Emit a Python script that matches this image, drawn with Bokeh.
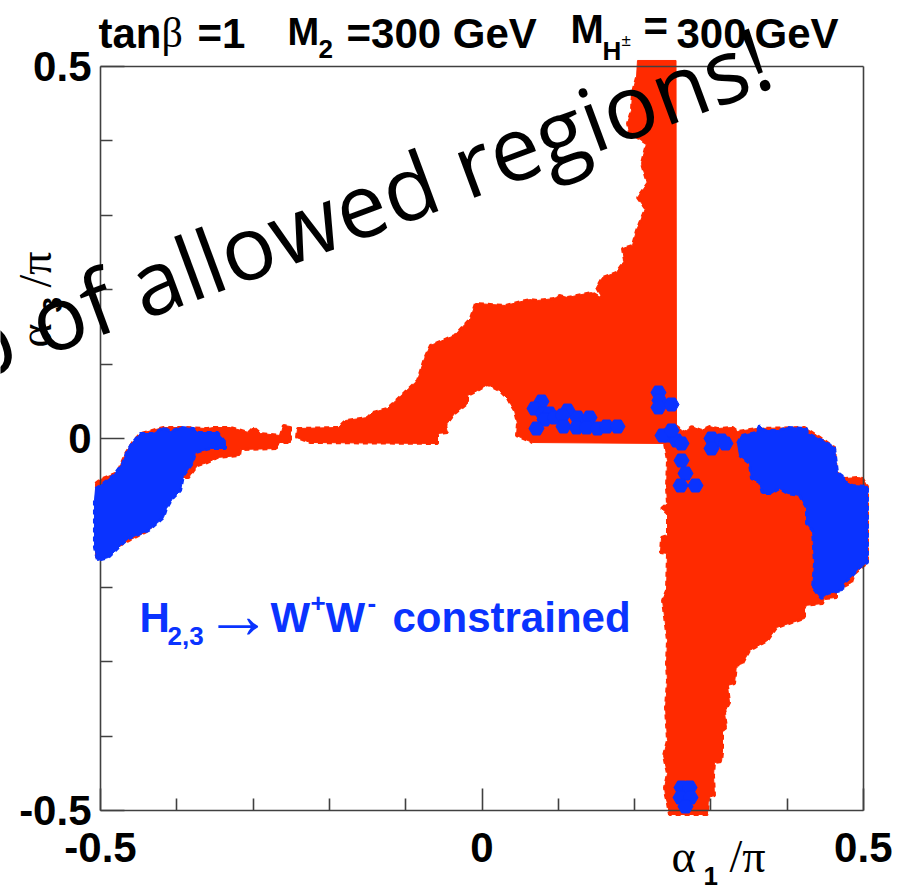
from bokeh.plotting import figure
from bokeh.embed import file_html
from bokeh.resources import INLINE
from bokeh.models import FixedTicker, Label, LinearAxis, Range1d
import math

# axis values
major_ticks = [-0.5, 0, 0.5]
minor_x = [-0.4, -0.3, -0.2, -0.1, 0.1, 0.2, 0.3, 0.4]
minor_y = [-0.4, -0.3, -0.2, -0.1, 0.1, 0.2, 0.3, 0.4]
tick_labels = {-0.5: "-0.5", 0: "0", 0.5: "0.5"}

# allowed regions (alpha1/pi, alpha3/pi) outlines
red_upper_x = [.2038,.2025,.1972,.1959,.1907,.1933,.2156,.2090,.2169,.2038,.2143,.2025,.1972,.1841,.1868,.1763,.1579,.1501,.1579,.1435,.1121,.1016,.0950,.0727,.0623,.0308,-.0085,-.0151,-.0360,-.0675,-.0754,-.0845,-.1029,-.1239,-.1435,-.1501,-.1789,-.1881,-.2418,-.2431,-.2248,-.0583,-.0583,-.0452,-.0478,-.0360,-.0190,-.0190,-.0059,.0072,.0229,.0334,.0426,.0465,.0452,.0662,.2392,.2549,.2543]
red_upper_y = [.5081,.4852,.4651,.4409,.4234,.4113,.3965,.3696,.3427,.3239,.3091,.2796,.2594,.2554,.2392,.2231,.2164,.2030,.1882,.1962,.1895,.1922,.1882,.1855,.1868,.1788,.1815,.1613,.1384,.1250,.1075,.0780,.0605,.0403,.0349,.0282,.0242,.0148,.0134,.0013,-.0054,-.0067,.0067,.0081,.0175,.0336,.0470,.0578,.0645,.0726,.0645,.0538,.0376,.0202,.0040,-.0054,-.0067,-.0067,.5081]

red_lower_x = [.2536,.2654,.2746,.2877,.2982,.3086,.3283,.3349,.3598,.4227,.4449,.4620,.4646,.4751,.4934,.4987,.5052,.5052,.4882,.4843,.4646,.4646,.4489,.4463,.4227,.4227,.3860,.3742,.3506,.3414,.3335,.3309,.3217,.3244,.3178,.3204,.3152,.3152,.3139,.3047,.3034,.3047,.2969,.2955,.2457,.2431,.2405,.2392,.2431,.2379,.2431,.2405,.2431,.2418,.2431,.2366,.2418,.2431,.2339,.2353,.2431,.2431,.2353,.2431,.2418,.2431,.2392]
red_lower_y = [.0175,.0081,.0161,.0108,.0161,.0134,.0148,.0094,.0134,.0148,0,-.0121,-.0457,-.0538,-.0524,-.0538,-.0645,-.1667,-.1815,-.1936,-.2043,-.2137,-.2151,-.2218,-.2245,-.2419,-.2540,-.2715,-.2849,-.3024,-.3051,-.3293,-.3320,-.3548,-.3683,-.3884,-.3925,-.4220,-.4341,-.4355,-.4530,-.4798,-.4825,-.5054,-.5054,-.4906,-.4798,-.4691,-.4503,-.4261,-.4059,-.3616,-.3253,-.3024,-.2715,-.2177,-.2043,-.1546,-.1532,-.1331,-.1304,-.1008,-.0941,-.0874,-.0659,-.0296,-.0067]

red_left_x = [-.5065,-.5000,-.4777,-.4672,-.4580,-.4476,-.4174,-.3912,-.3598,-.3519,-.3296,-.3060,-.2995,-.2903,-.2641,-.2602,-.2510,-.2510,-.2680,-.2680,-.3165,-.3178,-.3467,-.3598,-.3729,-.3847,-.3925,-.4371,-.5065]
red_left_y = [-.0605,-.0551,-.0457,-.0202,-.0054,.0067,.0148,.0148,.0134,.0148,.0148,.0081,.0148,.0067,.0040,.0175,.0161,-.0054,-.0054,-.0134,-.0148,-.0228,-.0255,-.0323,-.0363,-.0524,-.0524,-.1237,-.1599]

blue_left_x = [-.5065,-.5000,-.4830,-.4712,-.4646,-.4580,-.4476,-.4305,-.4174,-.4083,-.3951,-.3781,-.3729,-.3467,-.3362,-.3362,-.3558,-.3755,-.3794,-.3912,-.3951,-.4056,-.4135,-.4174,-.4371,-.4633,-.4738,-.4895,-.5039,-.5079,-.5079]
blue_left_y = [-.0672,-.0632,-.0497,-.0336,-.0161,-.0054,.0067,.0067,.0148,.0094,.0148,.0134,.0081,.0081,-.0054,-.0134,-.0134,-.0188,-.0336,-.0497,-.0699,-.0806,-.0941,-.1062,-.1237,-.1344,-.1438,-.1599,-.1640,-.1465,-.0833]

blue_right_x = [.3349,.3401,.3598,.3637,.3702,.3899,.4004,.4253,.4266,.4463,.4620,.4659,.4751,.4751,.4856,.5052,.5052,.4947,.4856,.4738,.4725,.4528,.4449,.4332,.4358,.4332,.4253,.4253,.4161,.4004,.3899,.3794,.3676,.3637,.3532,.3506,.3375]
blue_right_y = [-.0067,.0040,.0081,.0175,.0108,.0108,.0148,.0134,.0067,-.0027,-.0121,-.0457,-.0524,-.0578,-.0632,-.0645,-.1667,-.1734,-.1841,-.1949,-.2043,-.2083,-.2151,-.2003,-.1680,-.1237,-.1142,-.0927,-.0766,-.0739,-.0672,-.0739,-.0739,-.0591,-.0538,-.0336,-.0228]

blob_x = [.0780,.0688,.0793,.0885,.0819,.0950,.1121,.1055,.1252,.1409,.0714,.1068,.1239,.1370,.1514,.1632,.1776,.2313,.2326,.2313,.2484,.2431,.2549,.2366,.2615,.2484,.3008,.3008,.3139,.3191,.2615,.2667,.2602,.2798,.2615,.2720,.2602,.2733,.2667]
blob_y = [.0497,.0403,.0336,.0336,.0255,.0282,.0376,.0309,.0282,.0282,.0134,.0161,.0148,.0148,.0134,.0161,.0161,.0618,.0511,.0417,.0457,.0040,-.0027,.0040,-.0067,.0108,0,-.0134,-.0027,-.0067,-.0296,-.0470,-.0632,-.0632,-.4691,-.4691,-.4825,-.4825,-.4946]

RED = "#ff2a00"
BLUE = "#0a33ff"
AXIS = "#404040"
SANS = "Liberation Sans"
SERIF = "Liberation Serif"
FS = 42
BASELINE_SHIFT = 0.36


def dx(px):
    return (px - 481.5) / 763


def dy(py):
    return (438 - py) / 744


FRAME_W, FRAME_H = 892, 888

p = figure(
    frame_width=FRAME_W, frame_height=FRAME_H,
    x_range=Range1d(dx(0), dx(FRAME_W)), y_range=Range1d(dy(FRAME_H), dy(0)),
    output_backend="svg", toolbar_location=None,
    min_border=0,
    background_fill_color="white", border_fill_color="white",
)
p.outline_line_color = None
p.grid.visible = False

for ax, minors in ((p.xaxis[0], minor_x), (p.yaxis[0], minor_y)):
    ax.fixed_location = -0.5
    ax.bounds = (-0.5, 0.5)
    ax.ticker = FixedTicker(ticks=major_ticks, minor_ticks=minors)
    ax.major_label_overrides = tick_labels
    ax.major_tick_out = 0
    ax.minor_tick_out = 0
    ax.minor_tick_in = 12
    ax.axis_line_color = AXIS
    ax.axis_line_width = 1.6
    ax.major_tick_line_color = AXIS
    ax.major_tick_line_width = 1.6
    ax.minor_tick_line_color = AXIS
    ax.minor_tick_line_width = 1.6
    ax.major_label_text_font = SANS
    ax.major_label_text_font_style = "bold"
    ax.major_label_text_font_size = "%dpx" % FS
    ax.major_label_text_color = "black"
p.xaxis[0].major_tick_in = 22
p.yaxis[0].major_tick_in = 24
p.xaxis[0].major_label_standoff = 22
p.yaxis[0].major_label_standoff = 9

for side, loc in (("above", 0.5), ("right", 0.5)):
    a = LinearAxis(fixed_location=loc, bounds=(-0.5, 0.5), ticker=FixedTicker(ticks=[]),
                   axis_line_color=AXIS, axis_line_width=1.6,
                   major_tick_line_color=None, minor_tick_line_color=None,
                   major_label_text_font_size="0px", major_tick_out=0, major_tick_in=0,
                   minor_tick_out=0, minor_tick_in=0, major_label_standoff=0)
    p.add_layout(a, side)

RAGGED = dict(line_width=3, line_dash="5 4", line_cap="butt")
for xs, ys in ((red_upper_x, red_upper_y), (red_lower_x, red_lower_y), (red_left_x, red_left_y)):
    p.patch(xs, ys, fill_color=RED, line_color=RED, line_width=1)
p.line(red_upper_x[1:-3], red_upper_y[1:-3], line_color=RED, **RAGGED)
p.line(red_lower_x, red_lower_y, line_color=RED, **RAGGED)
p.line(red_left_x, red_left_y, line_color=RED, **RAGGED)
for xs, ys in ((blue_left_x, blue_left_y), (blue_right_x, blue_right_y)):
    p.patch(xs, ys, fill_color=BLUE, line_color=BLUE, line_width=1, level="annotation")
    p.line(xs, ys, line_color=BLUE, level="annotation", **RAGGED)
p.scatter(blob_x, blob_y, marker="hex", size=15, fill_color=BLUE, line_color=BLUE, level="annotation")


def text(s, x, y, font=SANS, style="bold", size=FS, color="black", angle=0.0, level="annotation"):
    # x, y: wanted start of the baseline, in page pixels
    shift = BASELINE_SHIFT * size
    lab = Label(x=dx(x - shift * math.sin(angle)), y=dy(y - shift * math.cos(angle)), text=s,
                text_font=font, text_font_style=style, text_font_size="%dpx" % size,
                text_color=color, text_baseline="alphabetic", text_align="left", angle=angle, level=level)
    p.add_layout(lab)


# title
text("tan", 98, 48)
text("\u03b2", 161, 48, font=SERIF, style="normal")
text("=1", 197, 48)
text("M", 287, 45, size=38)
text("2", 318, 58, size=26)
text("=300 GeV", 346, 48)
text("M", 570, 43, size=40)
text("H", 602, 60, size=26)
text("\u00b1", 621, 46, size=17, style="normal")
text("=", 643, 41)
text("300", 676, 48)
text("GeV", 754, 48)

# axis titles
text("\u03b1", 671, 873, font=SERIF, style="normal", size=46)
text("1", 703, 885, size=26)
text("/\u03c0", 729, 873, font=SERIF, style="normal", size=46)
text("\u03b1", 52, 347, font=SERIF, style="normal", size=46, angle=math.pi / 2)
text("3", 62, 312, size=28, angle=math.pi / 2)
text("/\u03c0", 52, 287, font=SERIF, style="normal", size=46, angle=math.pi / 2)

# blue annotation
text("H", 139, 632, color=BLUE)
text("2,3", 167, 645, color=BLUE, size=26)
text("\u2192", 204, 639, font=SERIF, style="normal", color=BLUE, size=67)
text("W", 270, 632, color=BLUE)
text("+", 310, 612, color=BLUE, size=26)
text("W", 325, 632, color=BLUE)
text("-", 367, 612, color=BLUE, size=26)
text("constrained", 392, 632, color=BLUE)

# overlaid remark
text("p of allowed regions!", -30, 381, font="Open Sans", style="normal", size=89,
     angle=math.radians(20.3), level="overlay")

open("out.html", "w").write(file_html(p, INLINE))
